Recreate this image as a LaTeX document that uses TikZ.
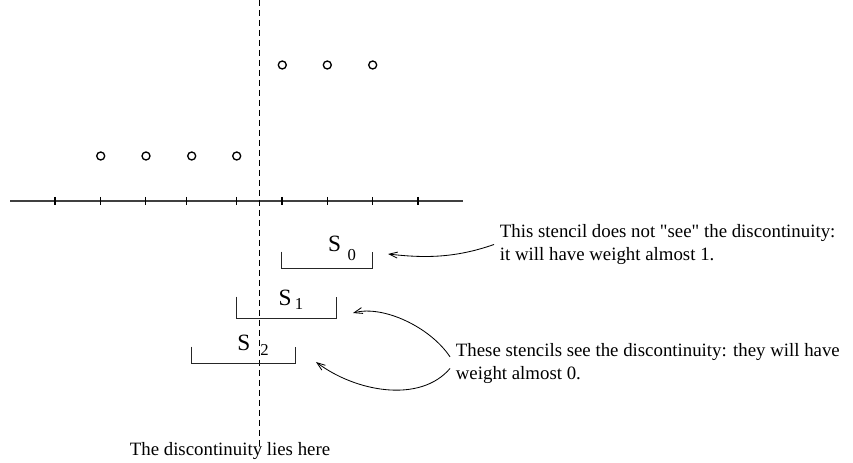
\documentclass[tikz,border=0pt]{standalone}
\usepackage{fontspec}
\setmainfont{Liberation Serif}
\usetikzlibrary{arrows.meta, positioning}

\begin{document}
\begin{tikzpicture}[
    x=0.6pt, y=-0.6pt,
    every node/.style={font=\fontsize{11.3}{13.8}\selectfont},
    note/.style={align=left, anchor=west},
    slabel/.style={anchor=base west, inner sep=0pt, font=\fontsize{14}{14}\selectfont},
    stencil/.style={line width=0.6pt, black!85},
    point/.style={line width=0.8pt},
    >={Straight Barb[length=5pt, width=3.6pt]},
    hint/.style={->, line width=0.5pt}
]
   \useasboundingbox (0,0) rectangle (853,463);

   % Axis and ticks
   \draw[line width=0.7pt, black!75] (10,201) -- (463,201);
   \foreach \x in {55,100.3,145.7,186.7,236.7,282,327.3,372.7,418}
      \draw[line width=0.7pt] (\x,197) -- (\x,205.5);

   % Point values on both sides of the jump
   \foreach \x in {100.7,146,191.7,236.7}
      \draw[point] (\x,156) circle[radius=4];
   \foreach \x in {282.3,327.3,372.7}
      \draw[point] (\x,65) circle[radius=4];

   % Discontinuity
   \node (here) at (230,451) {The discontinuity lies here};
   \draw[dash pattern=on 3.6pt off 2.4pt, line width=0.6pt] (259.3,0) -- (259.3,446);

   % Stencils
   \draw[stencil] (281.7,251.7) |- (372.7,269) -- (372.7,251.7);
   \node[slabel] (s0) at (327.7,251.7) {S\hspace{4pt}\raisebox{-5pt}{\fontsize{10}{10}\selectfont 0}};

   \draw[stencil] (236.7,296.7) |- (336,319) -- (336,296.7);
   \node[slabel] (s1) at (278.3,306) {S\hspace{2pt}\raisebox{-2.4pt}{\fontsize{10}{10}\selectfont 1}};

   \draw[stencil] (191.7,346.7) |- (295.7,364) -- (295.7,346.7);
   \node[slabel] (s2) at (237,350.7) {S\hspace{6pt}\raisebox{-3pt}{\fontsize{10}{10}\selectfont 2}};

   % Comments on the stencils
   \node[note] (note0) at (494,244.5)
      {This stencil does not \textquotedbl see\textquotedbl{} the discontinuity:\\it will have weight almost 1.};
   \node[note] (note12) at (450,363.5)
      {These stencils see the discontinuity: they will have\\weight almost 0.};

   \coordinate (t0) at (388,254);
   \coordinate (t1) at (353,313);
   \coordinate (t2) at (316,362);

   \draw[hint] (note0.west) .. controls +(-40,14) and +(35,4) .. (t0);
   \draw[hint] ([yshift=4pt]note12.west) .. controls +(-20,-30) and +(30,-8) .. (t1);
   \draw[hint] ([yshift=-3pt]note12.west) .. controls +(-30,35) and +(40,30) .. (t2);
\end{tikzpicture}
\end{document}
